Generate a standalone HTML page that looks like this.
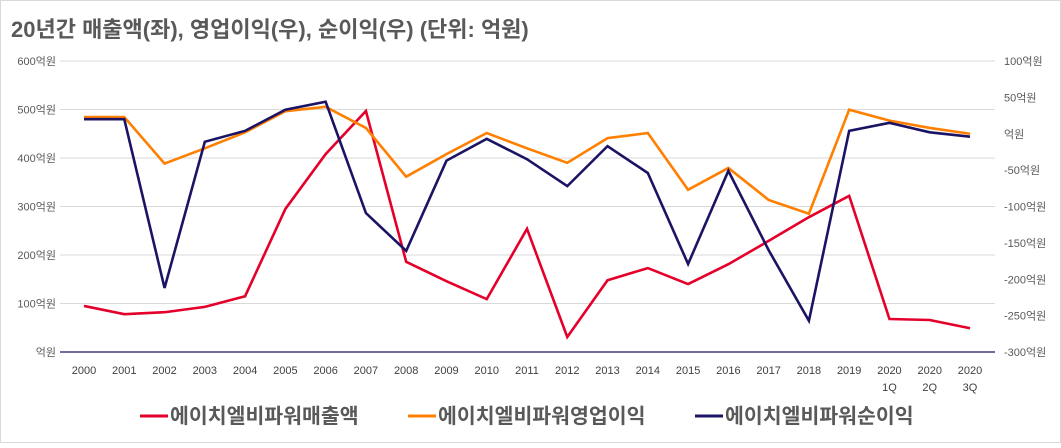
<!DOCTYPE html>
<html><head><meta charset="utf-8"><style>
html,body{margin:0;padding:0;background:#fff;}
body{width:1061px;height:443px;overflow:hidden;font-family:"Liberation Sans","Noto Sans CJK KR",sans-serif;}
</style></head><body>
<svg id="c" width="1061" height="443" xmlns="http://www.w3.org/2000/svg" font-family="'Liberation Sans','Noto Sans CJK KR',sans-serif">
<rect x="0.5" y="0.5" width="1060" height="442" fill="#fff" stroke="#d9d9d9"/>
<text x="11" y="37" font-size="22" font-weight="bold" fill="#595959">20년간 매출액(좌), 영업이익(우), 순이익(우) (단위: 억원)</text>
<g id="grid"></g><g id="lines"></g><g id="axes"></g><g id="legend"></g>
</svg>
<script>
const categories=["2000","2001","2002","2003","2004","2005","2006","2007","2008","2009","2010","2011","2012","2013","2014","2015","2016","2017","2018","2019","2020\n1Q","2020\n2Q","2020\n3Q"];
const revenue=[95,78,82,93,115,295,408,497,186,146,109,254,31,148,173,140,181,229,278,322,68,66,49];
const opProfit=[23,23,-41,-20,2,31,37,8,-59,-28,1,-20,-40,-6,1,-77,-47,-91,-110,33,18,8,0];
const netProfit=[20,20,-212,-11,4,33,44,-109,-161,-37,-7,-35,-72,-17,-54,-179,-51,-160,-257,4,15,2,-4];
const leftTicks=[0,100,200,300,400,500,600];
const rightTicks=[-300,-250,-200,-150,-100,-50,0,50,100];
const seriesNames=["에이치엘비파워매출액","에이치엘비파워영업이익","에이치엘비파워순이익"];
const colors=["#e4002b","#ff7f00","#1b1464"];
const NS="http://www.w3.org/2000/svg";
const yTop=61,yBot=352,x0=84,x1=970;
const yL=v=>yBot-(v/600)*(yBot-yTop);
const yR=v=>yBot-((v+300)/400)*(yBot-yTop);
const xS=i=>x0+i*(x1-x0)/(categories.length-1);
function mk(t,a,p){const e=document.createElementNS(NS,t);for(const k in a)e.setAttribute(k,a[k]);p.appendChild(e);return e;}
const grid=document.getElementById('grid'),axes=document.getElementById('axes'),lines=document.getElementById('lines'),legend=document.getElementById('legend');
leftTicks.forEach(v=>{
  if(v>0){const g=mk('line',{x1:60,x2:995,y1:yL(v),y2:yL(v),stroke:'#d9d9d9','stroke-width':1},grid);
  
  }
  const t=mk('text',{x:56,y:yL(v)+4,'text-anchor':'end','font-size':11,fill:'#595959'},axes);
  t.textContent=(v===0?'':v)+'억원';
  
  
});
rightTicks.forEach(v=>{
  const t=mk('text',{x:1004,y:yR(v)+4,'font-size':11,fill:'#595959'},axes);
  t.textContent=(v===0?'':v)+'억원';
  
  
});
const ax=mk('line',{x1:60,x2:995,y1:yBot,y2:yBot,stroke:'#1b1464','stroke-width':1.3},axes);


categories.forEach((c,i)=>{
  c.split('\n').forEach((s,j)=>{
    const t=mk('text',{x:xS(i),y:374+j*17,'text-anchor':'middle','font-size':11,fill:'#404040'},axes);
    t.textContent=s;
    
    
  });
});
function line(data,sc,col,name){
  const p=mk('polyline',{points:data.map((v,i)=>xS(i)+','+sc(v)).join(' '),fill:'none',stroke:col,'stroke-width':2.6,'stroke-linejoin':'miter'},lines);
  
  
}
line(revenue,yL,colors[0],'revenue-line');
line(opProfit,yR,colors[1],'operating-profit-line');
line(netProfit,yR,colors[2],'net-profit-line');
const lx=[140,408,695];
seriesNames.forEach((n,i)=>{
  const g=mk('g',{},legend);
  
  
  mk('line',{x1:lx[i],x2:lx[i]+28,y1:416,y2:416,stroke:colors[i],'stroke-width':3},g);
  const t=mk('text',{x:lx[i]+30,y:423,'font-size':20.5,'font-weight':'bold',fill:'#595959'},g);
  t.textContent=n;
});
</script>
</body></html>
